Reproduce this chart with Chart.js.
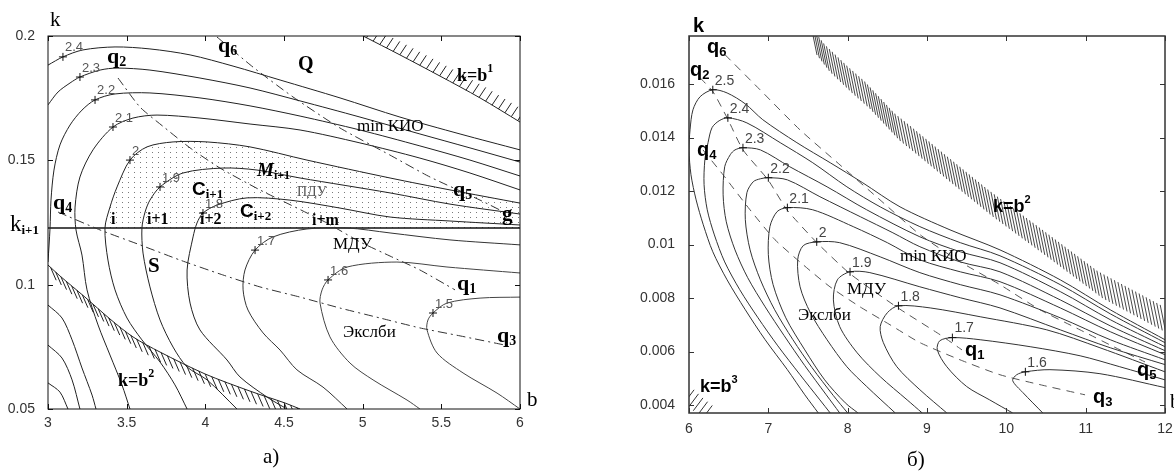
<!DOCTYPE html>
<html>
<head>
<meta charset="utf-8">
<script src="https://cdn.jsdelivr.net/npm/chart.js@4.4.1/dist/chart.umd.min.js"></script>
<style>
  html, body { margin: 0; padding: 0; background: #fff; }
  #wrap { position: relative; width: 1174px; height: 474px; overflow: hidden; }
  #boxA { position: absolute; left: 0; top: 0; width: 600px; height: 474px; }
  #boxB { position: absolute; left: 620px; top: 0; width: 554px; height: 474px; }
</style>
</head>
<body>
<div id="wrap">
  <div id="boxA"><canvas id="chartA"></canvas></div>
  <div id="boxB"><canvas id="chartB"></canvas></div>
</div>
<script>
// ---- panel a) : b from 3 to 6, k from 0.05 to 0.2 ----
const A_TICKS_X = [3, 3.5, 4, 4.5, 5, 5.5, 6];
const A_TICK_LABELS_X = ['3', '3.5', '4', '4.5', '5', '5.5', '6'];
const A_TICKS_Y = [0.05, 0.1, 0.15, 0.2];
const A_TICK_LABELS_Y = ['0.05', '0.1', '0.15', '0.2'];
const A_K_LINE = 0.1228;

// contour lines, [b, k]
const A_C24 = [[3.0,0.1883],[3.095,0.1916],[3.222,0.1944],[3.426,0.1956],[3.648,0.1948],[3.903,0.1924],[4.176,0.1879],[4.475,0.1823],[4.856,0.1751],[5.237,0.1674],[5.619,0.1606],[6.0,0.1542]];
const A_C23 = [[3.0,0.1723],[3.064,0.1775],[3.14,0.1811],[3.203,0.1835],[3.331,0.1863],[3.439,0.1871],[3.648,0.1863],[3.966,0.1831],[4.284,0.1791],[4.602,0.1739],[4.983,0.1674],[5.364,0.1606],[5.682,0.155],[6.0,0.1493]];
const A_C22 = [[3.0,0.1091],[3.013,0.1228],[3.019,0.134],[3.038,0.1461],[3.076,0.1562],[3.14,0.1642],[3.216,0.1702],[3.299,0.1743],[3.426,0.1767],[3.648,0.1771],[3.966,0.1751],[4.284,0.1719],[4.602,0.1678],[4.983,0.1622],[5.364,0.1558],[5.682,0.1501],[6.0,0.1437]];
const A_C21 = [[3.521,0.05],[3.47,0.0597],[3.394,0.0717],[3.318,0.0838],[3.248,0.0979],[3.216,0.1119],[3.178,0.122],[3.172,0.1312],[3.203,0.1433],[3.286,0.1542],[3.413,0.1634],[3.54,0.167],[3.693,0.1682],[3.966,0.167],[4.284,0.1646],[4.602,0.1622],[4.983,0.157],[5.364,0.1509],[5.682,0.1449],[6.0,0.1381]];
const A_C20 = [[3.884,0.05],[3.807,0.0597],[3.712,0.0689],[3.597,0.0778],[3.502,0.0866],[3.426,0.0979],[3.381,0.1099],[3.362,0.1228],[3.394,0.1312],[3.439,0.1393],[3.521,0.1501],[3.629,0.1554],[3.795,0.1574],[4.011,0.1574],[4.284,0.1554],[4.646,0.1501],[5.174,0.1429],[5.555,0.1381],[6.0,0.1328]];
const A_C19 = [[4.201,0.05],[4.011,0.0617],[3.884,0.0669],[3.795,0.0749],[3.712,0.0858],[3.648,0.0991],[3.604,0.1127],[3.597,0.1228],[3.617,0.1292],[3.648,0.134],[3.712,0.1393],[3.858,0.1449],[4.112,0.1469],[4.328,0.1461],[4.602,0.1429],[5.174,0.1369],[5.555,0.1324],[6.0,0.1284]];
const A_C18 = [[4.519,0.05],[4.392,0.0548],[4.22,0.0629],[4.138,0.0697],[3.966,0.0818],[3.903,0.0926],[3.884,0.1059],[3.922,0.1192],[3.947,0.1248],[3.985,0.1288],[4.074,0.132],[4.265,0.1349],[4.538,0.134],[4.856,0.1308],[5.174,0.1272],[5.555,0.1256],[6.0,0.124]];
const A_C17 = [[4.901,0.05],[4.748,0.0588],[4.583,0.0657],[4.475,0.0737],[4.367,0.0806],[4.271,0.0898],[4.24,0.0979],[4.252,0.1059],[4.316,0.1139],[4.43,0.1192],[4.646,0.1224],[4.901,0.1228],[5.174,0.1208],[5.555,0.118],[6.0,0.116]];
const A_C16 = [[5.364,0.05],[5.282,0.0536],[5.066,0.0617],[4.919,0.0685],[4.792,0.079],[4.729,0.0926],[4.742,0.0979],[4.78,0.1019],[4.901,0.1071],[5.218,0.1091],[5.536,0.1071],[6.0,0.1047]];
const A_C15 = [[6.0,0.05],[5.854,0.0564],[5.638,0.0645],[5.473,0.0725],[5.409,0.0818],[5.415,0.0858],[5.447,0.0886],[5.536,0.0926],[5.746,0.0946],[6.0,0.095]];
const A_LLA = [[3.0,0.0918],[3.089,0.0866],[3.153,0.0778],[3.216,0.0665],[3.28,0.0556],[3.305,0.05]];
const A_LLB = [[3.0,0.0757],[3.089,0.0705],[3.153,0.0617],[3.203,0.05]];
const A_LLC = [[3.0,0.0605],[3.076,0.0568],[3.127,0.05]];

// dash-dot lines q6-q5, q2-q1, q4-q3
const A_Q65 = [[4.074,0.1996],[4.303,0.1875],[4.557,0.1755],[4.856,0.163],[5.174,0.1521],[5.428,0.1433],[5.746,0.134],[5.936,0.128]];
const A_Q21 = [[3.445,0.1831],[3.585,0.1714],[3.744,0.163],[3.903,0.155],[4.093,0.1469],[4.347,0.1381],[4.57,0.1312],[4.773,0.1248],[4.983,0.1172],[5.174,0.1115],[5.364,0.1059],[5.587,0.0979]];
const A_Q43 = [[3.064,0.1292],[3.331,0.122],[3.585,0.116],[3.839,0.1099],[4.093,0.1043],[4.347,0.0991],[4.602,0.095],[4.856,0.0906],[5.11,0.0866],[5.364,0.0826],[5.619,0.0794],[5.905,0.0757]];

// boundaries k=b1, k=b2
const A_HATCH1 = [[5.003,0.2],[5.237,0.1924],[5.491,0.1839],[5.746,0.1751],[6.0,0.1654]];
const A_HATCH2 = [[3.0,0.1079],[3.076,0.1035],[3.235,0.095],[3.394,0.0862],[3.54,0.079],[3.712,0.0729],[3.998,0.0641],[4.284,0.0572],[4.507,0.0524],[4.602,0.05]];

const A_LABEL_AT = [[3.095,0.1916],[3.203,0.1835],[3.299,0.1743],[3.413,0.1634],[3.521,0.1501],[3.712,0.1393],[3.985,0.1288],[4.316,0.1139],[4.78,0.1019],[5.447,0.0886]];
const A_LABEL_TXT = ['2.4', '2.3', '2.2', '2.1', '2', '1.9', '1.8', '1.7', '1.6', '1.5'];

// ---- panel б) : b from 6 to 12, k from 0.0037 to 0.0178 ----
const B_TICKS_X = [6, 7, 8, 9, 10, 11, 12];
const B_TICK_LABELS_X = ['6', '7', '8', '9', '10', '11', '12'];
const B_TICKS_Y = [0.004, 0.006, 0.008, 0.01, 0.012, 0.014, 0.016];
const B_TICK_LABELS_Y = ['0.004', '0.006', '0.008', '0.01', '0.012', '0.014', '0.016'];

const B_C25 = [[7.63,0.0037],[7.46,0.00438],[7.24,0.00532],[6.96,0.00644],[6.71,0.00756],[6.48,0.00868],[6.30,0.00973],[6.18,0.01074],[6.09,0.01167],[6.025,0.01261],[6.0,0.01354],[6.013,0.01429],[6.05,0.01504],[6.14,0.01553],[6.30,0.01579],[6.48,0.01567],[6.71,0.01526],[6.93,0.01467],[7.36,0.01381],[7.78,0.01306],[8.19,0.01231],[8.66,0.01141],[9.29,0.01055],[9.92,0.0098],[10.68,0.00868],[11.31,0.00756],[12.0,0.00644]];
const B_C24 = [[7.78,0.0037],[7.65,0.00419],[7.40,0.00513],[7.12,0.00621],[6.87,0.00726],[6.64,0.00831],[6.45,0.00935],[6.32,0.01036],[6.23,0.0113],[6.19,0.01224],[6.20,0.01317],[6.24,0.01381],[6.29,0.01437],[6.38,0.01463],[6.49,0.01474],[6.73,0.01455],[7.15,0.01381],[7.56,0.01306],[7.99,0.01216],[8.41,0.01141],[8.91,0.01067],[9.42,0.01007],[9.92,0.00958],[10.68,0.0085],[11.31,0.00741],[12.0,0.00633]];
const B_C23 = [[7.90,0.0037],[7.73,0.00438],[7.46,0.00547],[7.20,0.00659],[6.96,0.00767],[6.74,0.00876],[6.58,0.0098],[6.47,0.01085],[6.43,0.01186],[6.45,0.01291],[6.52,0.01336],[6.58,0.01354],[6.68,0.01362],[6.90,0.01354],[7.27,0.01291],[7.74,0.01216],[8.24,0.0113],[8.91,0.01029],[9.42,0.00973],[9.92,0.00932],[10.68,0.00824],[11.31,0.00719],[12.0,0.00618]];
const B_C22 = [[8.00,0.0037],[7.82,0.00435],[7.55,0.0054],[7.31,0.00644],[7.08,0.00756],[6.90,0.00868],[6.77,0.0098],[6.71,0.01093],[6.73,0.01194],[6.81,0.01235],[6.90,0.01246],[7.00,0.0125],[7.24,0.01242],[7.65,0.01179],[8.16,0.01104],[8.57,0.01044],[8.91,0.00992],[9.42,0.00935],[9.92,0.00898],[10.68,0.00793],[11.31,0.00696],[12.0,0.00603]];
const B_C21 = [[8.13,0.0037],[7.97,0.00408],[7.71,0.00494],[7.46,0.00606],[7.22,0.00726],[7.06,0.0085],[7.00,0.00962],[7.02,0.01067],[7.11,0.01123],[7.24,0.01138],[7.56,0.0113],[8.07,0.01067],[8.50,0.01007],[8.91,0.00943],[9.42,0.00898],[9.92,0.00861],[10.68,0.00763],[11.31,0.00674],[12.0,0.00588]];
const B_C20 = [[8.60,0.0037],[8.24,0.00469],[7.99,0.00543],[7.74,0.00644],[7.53,0.00745],[7.40,0.00842],[7.37,0.00943],[7.44,0.00996],[7.61,0.0101],[7.90,0.01007],[8.41,0.00954],[8.91,0.00895],[9.42,0.0085],[9.92,0.00812],[10.68,0.00726],[11.31,0.00644],[12.0,0.00569]];
const B_C19 = [[8.94,0.0037],[8.75,0.00419],[8.41,0.00506],[8.12,0.00595],[7.90,0.00693],[7.82,0.00793],[7.87,0.00868],[8.03,0.00898],[8.28,0.00895],[8.91,0.00842],[9.42,0.00801],[9.92,0.00763],[10.68,0.00681],[11.31,0.00614],[12.0,0.00551]];
const B_C18 = [[9.25,0.0037],[8.91,0.00457],[8.62,0.00543],[8.45,0.00633],[8.41,0.00693],[8.50,0.00745],[8.64,0.00771],[9.04,0.00763],[9.67,0.0073],[10.51,0.00681],[11.18,0.00614],[12.0,0.00524]];
const B_C17 = [[10.08,0.0037],[9.79,0.00419],[9.50,0.00469],[9.25,0.00543],[9.13,0.00606],[9.16,0.0064],[9.32,0.00652],[9.67,0.00644],[10.30,0.00618],[10.93,0.00584],[11.43,0.00543],[12.0,0.00494]];
const B_C16 = [[10.46,0.0037],[10.21,0.00446],[10.08,0.00491],[10.13,0.00513],[10.24,0.00524],[10.55,0.00532],[11.18,0.00517],[12.0,0.00465]];

const B_Q21 = [[6.139,0.01624],[6.303,0.01571],[6.492,0.01467],[6.681,0.01354],[6.996,0.01242],[7.235,0.0113],[7.613,0.01007],[8.029,0.00891],[8.635,0.00763],[9.164,0.00663],[9.441,0.00606]];
const B_Q43 = [[6.176,0.01354],[6.429,0.01261],[6.769,0.0113],[7.084,0.01018],[7.437,0.00925],[7.777,0.00842],[8.156,0.00767],[8.534,0.007],[8.912,0.00633],[9.416,0.00569],[9.92,0.00513],[10.424,0.00476],[10.992,0.00438]];
const B_Q65 = [[6.454,0.0171],[6.895,0.01579],[7.399,0.01429],[7.903,0.01298],[8.408,0.01167],[8.912,0.01037],[9.416,0.00936],[9.92,0.0085],[10.425,0.00756],[10.929,0.00681],[11.433,0.00606],[11.748,0.00561]];

const B_HATCH2 = [[7.563,0.01766],[7.74,0.01698],[8.029,0.01616],[8.244,0.0156],[8.622,0.0144],[8.824,0.01392],[9.252,0.01287],[9.794,0.01156],[10.425,0.01018],[11.181,0.0085],[12.0,0.00719]];
const B_HATCH3 = [[6.0,0.0045],[6.139,0.00412],[6.315,0.0037]];

const B_LABEL_AT = [[6.30,0.01579],[6.49,0.01474],[6.68,0.01362],[7.00,0.0125],[7.24,0.01138],[7.61,0.0101],[8.03,0.00898],[8.64,0.00771],[9.32,0.00652],[10.24,0.00524]];
const B_LABEL_TXT = ['2.5', '2.4', '2.3', '2.2', '2.1', '2', '1.9', '1.8', '1.7', '1.6'];

// ---- drawing helpers ----
const SERIF = '"Liberation Serif", "DejaVu Serif", serif';
const SANS = '"Liberation Sans", Arial, sans-serif';
const sf = (s, w) => (w ? w + ' ' : '') + s + 'px ' + SERIF;
const ss = (s, w) => (w ? w + ' ' : '') + s + 'px ' + SANS;

const xy = arr => arr.map(p => ({ x: p[0], y: p[1] }));

function line(arr, extra) {
  return Object.assign({
    data: xy(arr), showLine: true, pointRadius: 0, borderWidth: 1,
    borderColor: '#222', tension: 0.3, fill: false
  }, extra || {});
}
const dashDot = { borderDash: [9, 4, 2, 4], borderColor: '#333', tension: 0.2 };

function toPx(chart, p) {
  return [chart.scales.x.getPixelForValue(p[0]), chart.scales.y.getPixelForValue(p[1])];
}

function rich(ctx, x, y, parts) {
  let cx = x;
  parts.forEach(([t, font, dy, col]) => {
    ctx.font = font;
    ctx.fillStyle = col || '#000';
    ctx.textAlign = 'left';
    ctx.textBaseline = 'middle';
    ctx.fillText(t, cx, y + (dy || 0));
    cx += ctx.measureText(t).width;
  });
}

function hatch(ctx, chart, h) {
  const pts = h.line.map(p => toPx(chart, p));
  const n = Math.hypot(h.dir[0], h.dir[1]);
  const dx = h.dir[0] / n, dy = h.dir[1] / n;
  const off = h.off || 0;
  ctx.beginPath();
  let need = h.step / 2;
  for (let i = 1; i < pts.length; i++) {
    const [x0, y0] = pts[i - 1], [x1, y1] = pts[i];
    const seg = Math.hypot(x1 - x0, y1 - y0);
    let t = need;
    while (t <= seg) {
      const x = x0 + (x1 - x0) * t / seg, y = y0 + (y1 - y0) * t / seg;
      ctx.moveTo(x + dx * h.len * off, y + dy * h.len * off);
      ctx.lineTo(x + dx * h.len * (off + 1), y + dy * h.len * (off + 1));
      t += h.step;
    }
    need = t - seg;
  }
  ctx.strokeStyle = h.color || '#222';
  ctx.lineWidth = h.width || 1;
  ctx.stroke();
}

function dotPattern(ctx) {
  const c = document.createElement('canvas');
  c.width = 6; c.height = 5;
  const g = c.getContext('2d');
  g.fillStyle = '#7a7a7a';
  g.fillRect(2, 2, 1, 1);
  return ctx.createPattern(c, 'repeat');
}

const A_DOTS = A_C20.filter(p => p[1] >= A_K_LINE).concat([[6, A_K_LINE]]);

const DECOR = {
  chartA: {
    dots: A_DOTS,
    hatches: [
      { line: A_HATCH1, dir: [0.55, -0.83], len: 12, step: 7.5 },
      { line: A_HATCH2, dir: [0.4, 0.92], len: 14, step: 7 }
    ],
    tickLen: 5, frame: '#111', frameW: 1,
    ticksX: A_TICKS_X, ticksY: A_TICKS_Y,
    labelAt: A_LABEL_AT, labelTxt: A_LABEL_TXT, labelFont: ss(13), labelColor: '#555',
    texts: [
      [50, 20, [['k', sf(21)]]],
      [527, 400, [['b', sf(21)]]],
      [263, 457, [['a)', sf(21)]]],
      [10, 225, [['k', sf(23)], ['i+1', sf(13, 'bold'), 6]]],
      [107, 57, [['q', sf(22, 'bold')], ['2', sf(14, 'bold'), 5]]],
      [218, 46, [['q', sf(22, 'bold')], ['6', sf(14, 'bold'), 5]]],
      [298, 65, [['Q', sf(20, 'bold')]]],
      [457, 76, [['k=b', sf(18, 'bold')], ['1', sf(12, 'bold'), -7]]],
      [357, 127, [['min КИО', sf(17)]]],
      [257, 171, [['M', sf(19, 'italic bold')], ['i+1', sf(12, 'bold'), 5]]],
      [297, 192, [['ПДУ', sf(14), 0, '#555']]],
      [192, 190, [['C', ss(19, 'bold')], ['i+1', sf(13, 'bold'), 5]]],
      [240, 212, [['C', ss(19, 'bold')], ['i+2', sf(13, 'bold'), 5]]],
      [111, 220, [['i', sf(16, 'bold')]]],
      [147, 220, [['i+1', sf(16, 'bold')]]],
      [200, 220, [['i+2', sf(16, 'bold')]]],
      [312, 221, [['i+m', sf(16, 'bold')]]],
      [53, 203, [['q', sf(22, 'bold')], ['4', sf(14, 'bold'), 5]]],
      [148, 267, [['S', sf(21, 'bold')]]],
      [333, 245, [['МДУ', sf(17)]]],
      [453, 190, [['q', sf(22, 'bold')], ['5', sf(14, 'bold'), 5]]],
      [502, 215, [['g', sf(21, 'bold')]]],
      [457, 284, [['q', sf(22, 'bold')], ['1', sf(14, 'bold'), 5]]],
      [343, 333, [['Экслби', sf(17)]]],
      [497, 336, [['q', sf(22, 'bold')], ['3', sf(14, 'bold'), 5]]],
      [118, 381, [['k=b', sf(18, 'bold')], ['2', sf(12, 'bold'), -7]]]
    ]
  },
  chartB: {
    hatches: [
      { line: B_HATCH2, dir: [0.2, 0.98], len: 28, step: 4, off: -0.5, color: '#333', width: 0.9 },
      { line: B_HATCH3, dir: [-0.6, 0.8], len: 16, step: 6, off: -0.3, color: '#333' }
    ],
    tickLen: 5, frame: '#333', frameW: 1.5,
    ticksX: B_TICKS_X, ticksY: B_TICKS_Y,
    labelAt: B_LABEL_AT, labelTxt: B_LABEL_TXT, labelFont: ss(14), labelColor: '#444',
    texts: [
      [73, 26, [['k', ss(20, 'bold')]]],
      [87, 47, [['q', ss(20, 'bold')], ['6', ss(13, 'bold'), 5]]],
      [70, 70, [['q', ss(20, 'bold')], ['2', ss(13, 'bold'), 5]]],
      [77, 150, [['q', ss(20, 'bold')], ['4', ss(13, 'bold'), 5]]],
      [373, 207, [['k=b', ss(18, 'bold')], ['2', ss(11, 'bold'), -7]]],
      [280, 257, [['min КИО', sf(17)]]],
      [227, 290, [['МДУ', sf(17)]]],
      [178, 316, [['Экслби', sf(17)]]],
      [345, 350, [['q', ss(20, 'bold')], ['1', ss(13, 'bold'), 5]]],
      [473, 397, [['q', ss(20, 'bold')], ['3', ss(13, 'bold'), 5]]],
      [517, 370, [['q', ss(20, 'bold')], ['5', ss(13, 'bold'), 5]]],
      [80, 387, [['k=b', ss(18, 'bold')], ['3', ss(11, 'bold'), -7]]],
      [287, 460, [['б)', sf(21)]]],
      [550, 402, [['b', sf(21)]]]
    ]
  }
};

const decorPlugin = {
  id: 'decor',
  beforeDatasetsDraw(chart) {
    const d = DECOR[chart.canvas.id];
    if (!d.dots) return;
    const ctx = chart.ctx, a = chart.chartArea;
    ctx.save();
    ctx.beginPath();
    ctx.rect(a.left, a.top, a.right - a.left, a.bottom - a.top);
    ctx.clip();
    ctx.beginPath();
    d.dots.forEach((p, i) => {
      const [x, y] = toPx(chart, p);
      if (i) ctx.lineTo(x, y); else ctx.moveTo(x, y);
    });
    ctx.closePath();
    ctx.fillStyle = dotPattern(ctx);
    ctx.fill();
    ctx.restore();
  },
  afterDatasetsDraw(chart) {
    const d = DECOR[chart.canvas.id];
    const ctx = chart.ctx, a = chart.chartArea;
    const sx = chart.scales.x, sy = chart.scales.y;

    ctx.save();
    ctx.beginPath();
    ctx.rect(a.left, a.top, a.right - a.left, a.bottom - a.top);
    ctx.clip();
    d.hatches.forEach(h => hatch(ctx, chart, h));
    ctx.restore();

    // frame and inward ticks
    ctx.save();
    ctx.strokeStyle = d.frame;
    ctx.lineWidth = d.frameW;
    ctx.strokeRect(a.left, a.top, a.right - a.left, a.bottom - a.top);
    ctx.lineWidth = 1;
    ctx.beginPath();
    d.ticksX.forEach(v => {
      const x = Math.round(sx.getPixelForValue(v)) + 0.5;
      ctx.moveTo(x, a.bottom); ctx.lineTo(x, a.bottom - d.tickLen);
      ctx.moveTo(x, a.top); ctx.lineTo(x, a.top + d.tickLen);
    });
    d.ticksY.forEach(v => {
      const y = Math.round(sy.getPixelForValue(v)) + 0.5;
      ctx.moveTo(a.left, y); ctx.lineTo(a.left + d.tickLen, y);
      ctx.moveTo(a.right, y); ctx.lineTo(a.right - d.tickLen, y);
    });
    ctx.stroke();

    // contour level marks
    ctx.strokeStyle = '#111';
    ctx.beginPath();
    d.labelAt.forEach(p => {
      const [x, y] = toPx(chart, p);
      ctx.moveTo(x - 4, y); ctx.lineTo(x + 4, y);
      ctx.moveTo(x, y - 4); ctx.lineTo(x, y + 4);
    });
    ctx.stroke();
    ctx.font = d.labelFont;
    ctx.fillStyle = d.labelColor;
    ctx.textAlign = 'left';
    ctx.textBaseline = 'middle';
    d.labelAt.forEach((p, i) => {
      const [x, y] = toPx(chart, p);
      ctx.fillText(d.labelTxt[i], x + 2, y - 9);
    });

    d.texts.forEach(([x, y, parts]) => rich(ctx, x, y, parts));
    ctx.restore();
  }
};

function makePanel(id, cfg) {
  return new Chart(document.getElementById(id), {
    type: 'scatter',
    data: { datasets: cfg.datasets },
    options: {
      responsive: true,
      maintainAspectRatio: false,
      animation: false,
      devicePixelRatio: 1,
      events: [],
      layout: { padding: { top: 36, right: cfg.padRight, left: 0, bottom: 0 } },
      plugins: { legend: { display: false }, tooltip: { enabled: false } },
      scales: {
        x: {
          type: 'linear', min: cfg.xMin, max: cfg.xMax,
          grid: { display: false }, border: { display: false },
          afterFit: s => { s.height = cfg.xAxisH; },
          afterBuildTicks: s => { s.ticks = cfg.ticksX.map(v => ({ value: v })); },
          ticks: {
            padding: cfg.xPad, color: '#333', autoSkip: false, maxRotation: 0,
            font: { family: SANS, size: 14 },
            callback: (v, i) => cfg.labelsX[i]
          }
        },
        y: {
          type: 'linear', min: cfg.yMin, max: cfg.yMax,
          grid: { display: false }, border: { display: false },
          afterFit: s => { s.width = cfg.yAxisW; },
          afterBuildTicks: s => { s.ticks = cfg.ticksY.map(v => ({ value: v })); },
          ticks: {
            padding: cfg.yPad, color: '#333', autoSkip: false,
            font: { family: SANS, size: 14 },
            callback: (v, i) => cfg.labelsY[i]
          }
        }
      }
    },
    plugins: [decorPlugin]
  });
}

makePanel('chartA', {
  xMin: 3, xMax: 6, yMin: 0.05, yMax: 0.2,
  ticksX: A_TICKS_X, labelsX: A_TICK_LABELS_X, ticksY: A_TICKS_Y, labelsY: A_TICK_LABELS_Y,
  padRight: 80, xAxisH: 65, yAxisW: 48, xPad: -2, yPad: 5,
  datasets: [
    line(A_C24), line(A_C23), line(A_C22), line(A_C21), line(A_C20),
    line(A_C19), line(A_C18), line(A_C17, { borderColor: '#333' }),
    line(A_C16, { borderColor: '#444' }), line(A_C15, { borderColor: '#444' }),
    line(A_LLA), line(A_LLB), line(A_LLC),
    line(A_Q65, dashDot), line(A_Q21, dashDot), line(A_Q43, dashDot),
    line(A_HATCH1, { borderColor: '#222' }), line(A_HATCH2, { borderColor: '#222' }),
    line([[3, A_K_LINE], [6, A_K_LINE]], { borderColor: '#111', borderWidth: 1.5, tension: 0 })
  ]
});

makePanel('chartB', {
  xMin: 6, xMax: 12, yMin: 0.0037, yMax: 0.0178,
  ticksX: B_TICKS_X, labelsX: B_TICK_LABELS_X, ticksY: B_TICKS_Y, labelsY: B_TICK_LABELS_Y,
  padRight: 9, xAxisH: 61, yAxisW: 69, xPad: 0, yPad: 6,
  datasets: [
    line(B_C25, { borderColor: '#333' }), line(B_C24, { borderColor: '#333' }),
    line(B_C23, { borderColor: '#333' }), line(B_C22, { borderColor: '#333' }),
    line(B_C21, { borderColor: '#333' }), line(B_C20, { borderColor: '#333' }),
    line(B_C19, { borderColor: '#333' }), line(B_C18, { borderColor: '#333' }),
    line(B_C17, { borderColor: '#333' }), line(B_C16, { borderColor: '#333' }),
    line(B_Q21, Object.assign({}, dashDot, { borderDash: [8, 6], borderColor: '#555' })),
    line(B_Q43, Object.assign({}, dashDot, { borderDash: [8, 6], borderColor: '#555' })),
    line(B_Q65, Object.assign({}, dashDot, { borderDash: [8, 6], borderColor: '#555' }))
  ]
});
</script>
</body>
</html>
